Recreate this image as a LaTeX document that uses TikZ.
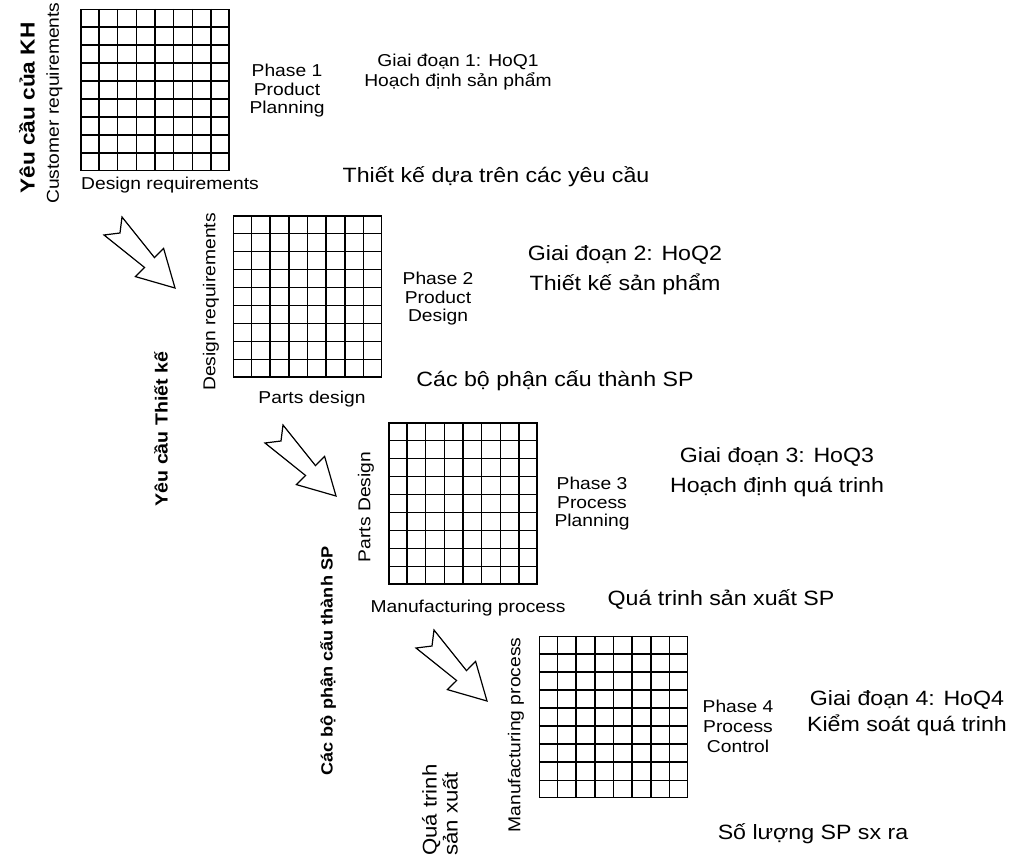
\documentclass[tikz,border=0pt]{standalone}
\usepackage{fontspec}
\setmainfont{Liberation Sans}[FakeStretch=1.12]
\usetikzlibrary{positioning, calc}

\begin{document}
\begin{tikzpicture}[
  x=1pt, y=-1pt,
  hoq/.style={draw, line width=1.5pt, minimum width=148pt, minimum height=161pt, inner sep=0pt},
  cellline/.style={line width=1.4pt},
  lbl/.style={font=\fontsize{17.2}{18.5}\selectfont, align=center, inner sep=0pt},
  vlbl/.style={lbl, rotate=90},
  big/.style={font=\fontsize{20.7}{30}\selectfont, align=center, inner sep=0pt},
  side/.style={font=\bfseries\fontsize{17.5}{20}\selectfont, rotate=90, inner sep=0pt},
  hollow/.style={draw, line width=1.2pt, fill=white, line join=miter},
  hollowarrow/.pic={\draw[hollow] (-71,-53) -- (-55,-55) -- (-53,-71) -- (-20.5,-30.4)
      -- (-11.4,-39.6) -- (0,0) -- (-39.6,-11.4) -- (-30.4,-20.5) -- cycle;}]

\useasboundingbox (0,0) rectangle (1022,857);

% the four houses of quality
\node[hoq] (g1) at (155,90) {};
\node[hoq] (g2) at (307.5,296.5) {};
\node[hoq] (g3) at (463,503.5) {};
\node[hoq] (g4) at (613.5,717) {};
\foreach \g in {g1,g2,g3,g4} {
  \foreach \k in {1,...,7}
    \draw[cellline] ($(\g.north west)!\k/8!(\g.north east)$) -- ($(\g.south west)!\k/8!(\g.south east)$);
  \foreach \k in {1,...,8}
    \draw[cellline] ($(\g.north west)!\k/9!(\g.south west)$) -- ($(\g.north east)!\k/9!(\g.south east)$);
}

% phase 1
\node[side, font=\bfseries\fontsize{20.2}{22}\selectfont] (kh) at (27,108) {Yêu cầu của KH};
\node[vlbl] (cr) at (54.5,103) {Customer requirements};
\node[lbl] (dr1) at (170,185) {Design requirements};
\node[lbl] (ph1) at (287,91) {Phase 1\\Product\\Planning};
\node[lbl, font=\fontsize{17.2}{20}\selectfont] (hq1) at (458,72) {Giai đoạn 1: HoQ1\\Hoạch định sản phẩm};
\node[big] (t1) at (496,177) {Thiết kế dựa trên các yêu cầu};

% phase 2
\node[vlbl] (dr2) at (211,302) {Design requirements};
\node[lbl] (ph2) at (438,299) {Phase 2\\Product\\Design};
\node[big] (hq2) at (625,270) {Giai đoạn 2: HoQ2\\Thiết kế sản phẩm};
\node[lbl] (pd2) at (312,399) {Parts design};
\node[big] (t2) at (555,381) {Các bộ phận cấu thành SP};
\node[side] (s2) at (161,429) {Yêu cầu Thiết kế};

% phase 3
\node[vlbl] (pd3) at (366,507) {Parts Design};
\node[lbl] (ph3) at (592,504) {Phase 3\\Process\\Planning};
\node[big] (hq3) at (777,472) {Giai đoạn 3: HoQ3\\Hoạch định quá trinh};
\node[lbl] (mp3) at (468,608) {Manufacturing process};
\node[big] (t3) at (721,599) {Quá trinh sản xuất SP};
\node[side, font=\bfseries\fontsize{16.2}{20}\selectfont] (s3) at (328,661) {Các bộ phận cấu thành SP};

% phase 4
\node[vlbl] (mp4) at (516,735) {Manufacturing process};
\node[big, rotate=90, align=left, anchor=west, font=\fontsize{19.8}{21}\selectfont] (s4) at (440,856) {Quá trinh\\sản xuất};
\node[lbl, font=\fontsize{17.2}{20}\selectfont] (ph4) at (738,726) {Phase 4\\Process\\Control};
\node[big, font=\fontsize{20.7}{26}\selectfont] (hq4) at (907,713) {Giai đoạn 4: HoQ4\\Kiểm soát quá trinh};
\node[big] (t4) at (813,834) {Số lượng SP sx ra};

% block arrows between the phases
\coordinate (tip1) at (175,288);
\coordinate (tip2) at (336,496);
\coordinate (tip3) at (487,701);
\foreach \t in {tip1,tip2,tip3}
  \pic at (\t) {hollowarrow};
\end{tikzpicture}
\end{document}
